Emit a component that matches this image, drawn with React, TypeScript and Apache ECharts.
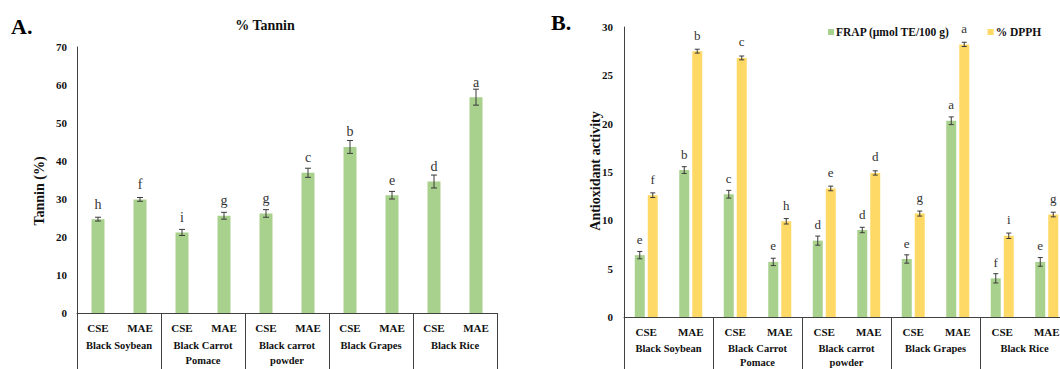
import React, { useEffect, useRef } from "react";
import * as echarts from "echarts";

const FONT = "'Liberation Serif', 'Times New Roman', serif";

const methods = ["CSE", "MAE", "CSE", "MAE", "CSE", "MAE", "CSE", "MAE", "CSE", "MAE"];
const groups = ["Black Soybean", "Black Carrot\nPomace", "Black carrot\npowder", "Black Grapes", "Black Rice"];

const tanninValues = [24.7, 29.9, 21.2, 25.6, 26.2, 36.9, 43.7, 31.0, 34.6, 56.8];
const tanninErr = [0.5, 0.5, 0.8, 0.9, 1.0, 1.2, 1.7, 1.0, 1.7, 2.1];
const tanninLetters = ["h", "f", "i", "g", "g", "c", "b", "e", "d", "a"];

const frapValues = [6.4, 15.2, 12.7, 5.7, 7.9, 9.0, 6.0, 20.3, 4.0, 5.7];
const frapErr = [0.38, 0.35, 0.4, 0.38, 0.47, 0.28, 0.43, 0.4, 0.48, 0.45];
const frapLetters = ["e", "b", "c", "e", "d", "d", "e", "a", "f", "e"];

const dpphValues = [12.6, 27.5, 26.8, 9.9, 13.3, 14.9, 10.7, 28.2, 8.4, 10.6];
const dpphErr = [0.24, 0.2, 0.2, 0.28, 0.24, 0.22, 0.26, 0.22, 0.28, 0.24];
const dpphLetters = ["f", "b", "c", "h", "e", "d", "g", "a", "i", "g"];

const GREEN = "#A9D18E";
const YELLOW = "#FFD966";
const AXIS = "#404040";

function errSeries(
  vals: number[],
  errs: number[],
  letters: string[],
  xIdx: number,
  yIdx: number,
  off: number,
  cap: number,
  gap: number,
  fs: number
) {
  return {
    type: "custom",
    xAxisIndex: xIdx,
    yAxisIndex: yIdx,
    z: 5,
    silent: true,
    data: vals.map((v, i) => [i, v]),
    renderItem: (params: any, api: any) => {
      const i = params.dataIndex;
      const x = api.coord([i, vals[i]])[0] + off;
      const yTop = api.coord([i, vals[i] + errs[i]])[1];
      const yBot = api.coord([i, vals[i] - errs[i]])[1];
      const yBar = api.coord([i, vals[i]])[1];
      const ls = { stroke: "#3a3a3a", lineWidth: 1 };
      return {
        type: "group",
        children: [
          { type: "line", shape: { x1: x, y1: yTop, x2: x, y2: yBot }, style: ls },
          { type: "line", shape: { x1: x - cap, y1: yTop, x2: x + cap, y2: yTop }, style: ls },
          { type: "line", shape: { x1: x - cap, y1: yBot, x2: x + cap, y2: yBot }, style: ls },
          {
            type: "text",
            x: x,
            y: yBar - gap,
            style: {
              text: letters[i],
              align: "center",
              verticalAlign: "bottom",
              fontSize: fs,
              fontFamily: FONT,
              fill: "#333",
            },
          },
        ],
      };
    },
  };
}

const axisLabelStyle = {
  fontFamily: FONT,
  fontWeight: "bold" as const,
  fontSize: 11,
  color: "#111",
};

export default function App() {
  const ref = useRef<HTMLDivElement>(null);
  useEffect(() => {
    if (!ref.current) return;
    const chart = echarts.init(ref.current, undefined, { renderer: "svg" });
    const option: any = {
      animation: false,
      backgroundColor: "#fff",
      grid: [
        { left: 77, top: 47, width: 420, height: 266, outerBoundsMode: "none" },
        { left: 624, top: 27, width: 445, height: 290, outerBoundsMode: "none" },
      ],
      legend: {
        left: 823,
        top: 21,
        itemWidth: 6,
        itemHeight: 6,
        itemGap: 38,
        icon: "rect",
        selectedMode: false,
        textStyle: { ...axisLabelStyle, fontSize: 11.5, padding: [0, 0, 0, -3] },
        data: ["FRAP (µmol TE/100 g)", "% DPPH"],
      },
      xAxis: [
        {
          type: "category",
          gridIndex: 0,
          data: methods,
          axisLine: { lineStyle: { color: AXIS } },
          axisTick: { show: false },
          axisLabel: { ...axisLabelStyle, margin: 9, interval: 0 },
        },
        {
          type: "category",
          gridIndex: 0,
          position: "bottom",
          data: groups,
          axisLine: { show: false },
          axisTick: { show: true, length: 60, lineStyle: { color: AXIS } },
          axisLabel: { ...axisLabelStyle, fontSize: 10.5, margin: 25, lineHeight: 15, interval: 0 },
        },
        {
          type: "category",
          gridIndex: 1,
          data: methods,
          axisLine: { lineStyle: { color: AXIS } },
          axisTick: { show: false },
          axisLabel: { ...axisLabelStyle, margin: 9, interval: 0 },
        },
        {
          type: "category",
          gridIndex: 1,
          position: "bottom",
          data: groups,
          axisLine: { show: false },
          axisTick: { show: true, length: 60, lineStyle: { color: AXIS } },
          axisLabel: { ...axisLabelStyle, fontSize: 10.5, margin: 24, lineHeight: 14, interval: 0 },
        },
      ],
      yAxis: [
        {
          type: "value",
          gridIndex: 0,
          min: 0,
          max: 70,
          interval: 10,
          axisLine: { show: true, lineStyle: { color: AXIS } },
          axisTick: { show: false },
          splitLine: { show: false },
          axisLabel: { ...axisLabelStyle, margin: 10 },
        },
        {
          type: "value",
          gridIndex: 1,
          min: 0,
          max: 30,
          interval: 5,
          axisLine: { show: true, lineStyle: { color: AXIS } },
          axisTick: { show: false },
          splitLine: { show: false },
          axisLabel: { ...axisLabelStyle, margin: 11 },
        },
      ],
      series: [
        {
          type: "bar",
          name: "Tannin",
          xAxisIndex: 0,
          yAxisIndex: 0,
          data: tanninValues,
          barWidth: 13,
          itemStyle: { color: GREEN },
        },
        {
          type: "bar",
          name: "FRAP (µmol TE/100 g)",
          xAxisIndex: 2,
          yAxisIndex: 1,
          data: frapValues,
          barWidth: 10,
          barGap: "30%",
          itemStyle: { color: GREEN },
        },
        {
          type: "bar",
          name: "% DPPH",
          xAxisIndex: 2,
          yAxisIndex: 1,
          data: dpphValues,
          barWidth: 10,
          barGap: "30%",
          itemStyle: { color: YELLOW },
        },
        errSeries(tanninValues, tanninErr, tanninLetters, 0, 0, 0, 3, 8, 14),
        errSeries(frapValues, frapErr, frapLetters, 2, 1, -6.5, 2.5, 9.5, 13),
        errSeries(dpphValues, dpphErr, dpphLetters, 2, 1, 6.5, 2.5, 9.5, 13),
      ],
      graphic: [
        {
          type: "text",
          left: 11,
          top: 15,
          style: { text: "A.", fontFamily: FONT, fontWeight: "bold", fontSize: 22, fill: "#000" },
        },
        {
          type: "text",
          left: 551,
          top: 11,
          style: { text: "B.", fontFamily: FONT, fontWeight: "bold", fontSize: 22, fill: "#000" },
        },
        {
          type: "text",
          x: 265,
          y: 25,
          style: {
            text: "% Tannin",
            align: "center",
            verticalAlign: "middle",
            fontFamily: FONT,
            fontWeight: "bold",
            fontSize: 14,
            fill: "#111",
          },
        },
        {
          type: "text",
          x: 39,
          y: 191,
          rotation: Math.PI / 2,
          style: {
            text: "Tannin (%)",
            align: "center",
            verticalAlign: "middle",
            fontFamily: FONT,
            fontWeight: "bold",
            fontSize: 14,
            fill: "#111",
          },
        },
        {
          type: "text",
          x: 595,
          y: 171,
          rotation: Math.PI / 2,
          style: {
            text: "Antioxidant activity",
            align: "center",
            verticalAlign: "middle",
            fontFamily: FONT,
            fontWeight: "bold",
            fontSize: 14,
            fill: "#111",
          },
        },
      ],
    };
    chart.setOption(option);
    return () => chart.dispose();
  }, []);
  return (
    <div
      ref={ref}
      style={{ position: "absolute", left: 0, top: 0, width: 1060, height: 369, overflow: "hidden" }}
    />
  );
}
